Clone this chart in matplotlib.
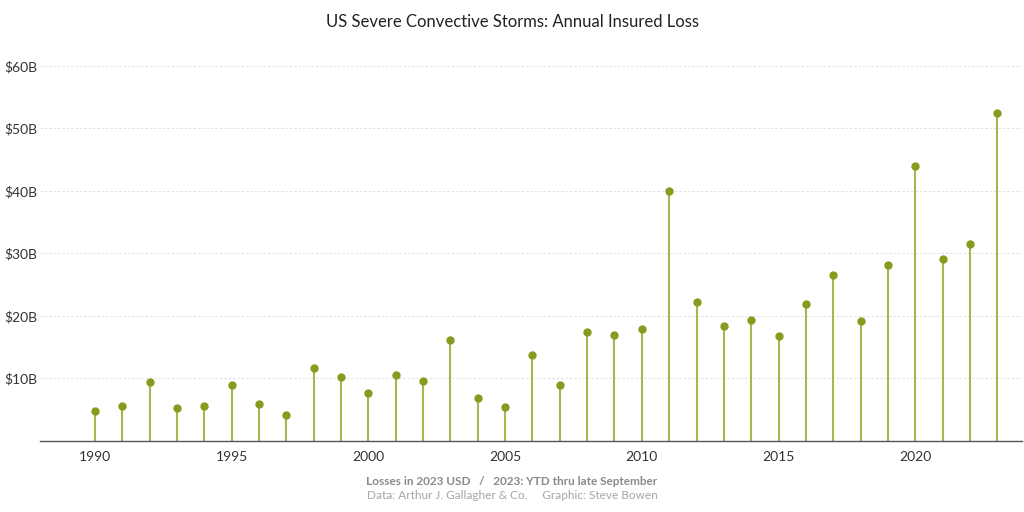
import matplotlib.pyplot as plt
import numpy as np

years = list(range(1990, 2024))
losses = [4.8, 5.6, 9.4, 5.3, 5.6, 9.0, 5.9, 4.2, 11.7, 10.2,
          7.7, 10.6, 9.6, 16.2, 6.9, 5.4, 13.8, 9.0, 17.4, 17.0,
          17.9, 40.0, 22.2, 18.4, 19.4, 16.8, 21.9, 26.6, 19.2, 28.2,
          44.0, 29.1, 31.5, 52.5]
yticks = [10, 20, 30, 40, 50, 60]
ytick_labels = ['$10B', '$20B', '$30B', '$40B', '$50B', '$60B']
xticks = [1990, 1995, 2000, 2005, 2010, 2015, 2020]

plt.rcParams['font.family'] = ['Lato', 'DejaVu Sans']

fig = plt.figure(figsize=(10.24, 5.12), dpi=100)
ax = fig.add_axes([0.039, 0.1387, 0.959, 0.757])

stem_col = '#aab450'
dot_col = '#8a9a1e'
ax.vlines(years, 0, losses, color=stem_col, lw=1.5, zorder=2)
ax.plot(years, losses, 'o', color=dot_col, ms=5, zorder=3)

ax.set_xlim(1987.99, 2023.9)
ax.set_ylim(0, 62)
ax.set_yticks(yticks)
ax.set_yticklabels(ytick_labels)
ax.set_xticks(xticks)
ax.grid(axis='y', color='#e0e0e0', ls=(0, (2.5, 2)), lw=0.7)
ax.set_axisbelow(True)
for s in ['top', 'right', 'left']:
    ax.spines[s].set_visible(False)
ax.spines['bottom'].set_color('#555555')
ax.spines['bottom'].set_linewidth(1.0)
ax.tick_params(axis='both', length=0, labelsize=10, colors='#333333')
ax.tick_params(axis='y', pad=2)
ax.tick_params(axis='x', pad=7)

fig.text(0.5, 0.957, 'US Severe Convective Storms: Annual Insured Loss',
         ha='center', va='center', fontsize=12, color='#222222')
fig.text(0.5, 0.060, 'Losses in 2023 USD   /   2023: YTD thru late September',
         ha='center', va='center', fontsize=8.5, color='#8a8a8a', fontweight='bold')
fig.text(0.5, 0.033, 'Data: Arthur J. Gallagher & Co.     Graphic: Steve Bowen',
         ha='center', va='center', fontsize=8.5, color='#a5a5a5')

fig.savefig('out.png', dpi=100)
